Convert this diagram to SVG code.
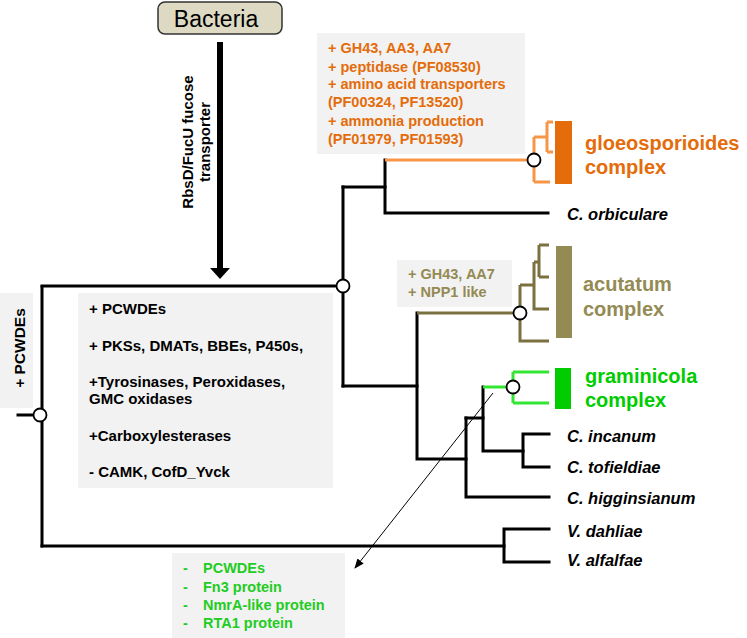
<svg xmlns="http://www.w3.org/2000/svg" width="747" height="638" viewBox="0 0 747 638">
<defs>
<style>
.t{stroke:#000;stroke-width:3;fill:none;stroke-linecap:square}
.o{stroke:#f79646;stroke-width:3;fill:none}
.v{stroke:#7a7040;stroke-width:3;fill:none}
.g{stroke:#33e633;stroke-width:3;fill:none}
.nd{fill:#fff;stroke:#000;stroke-width:1.8}
.box{fill:#f2f2f2}
.b{font-family:"Liberation Sans",Arial,sans-serif;font-weight:bold}
.sp{font-family:"Liberation Sans",Arial,sans-serif;font-weight:bold;font-style:italic;font-size:16.5px;fill:#000}
</style>
<marker id="ah" markerWidth="10" markerHeight="8" refX="9" refY="4" orient="auto" markerUnits="userSpaceOnUse">
<path d="M0,0 L10,4 L0,8 z" fill="#000"/>
</marker>
</defs>
<rect width="747" height="638" fill="#fff"/>

<g id="bacteria">
<rect x="158" y="2" width="124" height="32" rx="7" fill="#ddd9c3" stroke="#333" stroke-width="1.5"/>
<text x="216" y="27" font-family="Liberation Sans,Arial,sans-serif" font-size="23" text-anchor="middle" fill="#000">Bacteria</text>
</g>

<g id="transfer">
<line x1="220" y1="42" x2="220" y2="269" stroke="#000" stroke-width="6"/>
<polygon points="210,268 230,268 220,279" fill="#000"/>
<text class="b" font-size="15" fill="#000" transform="translate(193,142) rotate(-90)" text-anchor="middle">RbsD/FucU fucose</text>
<text class="b" font-size="15" fill="#000" transform="translate(210,142) rotate(-90)" text-anchor="middle">transporter</text>
</g>

<g id="connectors">
<path class="t" d="M18,415 H40"/>
<path class="t" d="M42,287 V546"/>
<path class="t" d="M42,286 H343"/>
<path class="t" d="M42,546 H504"/>
<path class="t" d="M504,529 V562 M504,529 H549 M504,562 H549"/>
<path class="t" d="M343,187 V386"/>
<path class="t" d="M343,187 H385"/>
<path class="t" d="M385,160 V213 H548"/>
<path class="o" d="M385,160 H534"/>
<path class="o" d="M534,137 V182 M534,137 H547 M534,182 H550 M547,122 V152 M547,122 H553 M547,152 H553"/>
<path class="t" d="M343,386 H417"/>
<path class="t" d="M417,313 V459 H466"/>
<path class="v" d="M417,313 H520"/>
<path class="v" d="M520,285 V341 H549 M520,285 H534 M534,262 V309 H549 M534,262 H539 M539,245 V277 M539,245 H549 M539,277 H549"/>
<path class="t" d="M466,418 V497 H549"/>
<path class="t" d="M466,418 H483"/>
<path class="t" d="M483,387 V451 H523"/>
<path class="t" d="M523,434 V467 M523,434 H549 M523,467 H549"/>
<path class="g" d="M483,387 H513"/>
<path class="g" d="M513,372 V403 M513,372 H549 M513,403 H549"/>
<line x1="493" y1="393" x2="355" y2="568" stroke="#000" stroke-width="1" marker-end="url(#ah)"/>
</g>

<g id="nodes">
<circle class="nd" cx="40" cy="415" r="6.5"/>
<circle class="nd" cx="343" cy="286" r="6.5"/>
<circle class="nd" cx="534" cy="160" r="6.5"/>
<circle class="nd" cx="520" cy="313" r="6.5"/>
<circle class="nd" cx="513" cy="387" r="6.5"/>
</g>

<g id="root-label">
<rect class="box" x="0" y="293" width="33" height="115"/>
<text class="b" font-size="15.5" fill="#000" transform="translate(25,348) rotate(-90)" text-anchor="middle">+ PCWDEs</text>
</g>

<g id="colleto-box">
<rect class="box" x="78" y="293" width="255" height="195"/>
<g class="b" font-size="15" fill="#000">
<text x="89" y="314">+ PCWDEs</text>
<text x="89" y="351">+ PKSs, DMATs, BBEs, P450s,</text>
<text x="89" y="387">+Tyrosinases, Peroxidases,</text>
<text x="89" y="404">GMC oxidases</text>
<text x="89" y="441">+Carboxylesterases</text>
<text x="89" y="477">- CAMK, CofD_Yvck</text>
</g>
</g>

<g id="gloeo-box">
<rect class="box" x="317" y="33" width="208" height="121"/>
<g class="b" font-size="14.5" fill="#e46c0a">
<text x="328" y="53">+ GH43, AA3, AA7</text>
<text x="328" y="72">+ peptidase (PF08530)</text>
<text x="328" y="89">+ amino acid transporters</text>
<text x="328" y="107">(PF00324, PF13520)</text>
<text x="328" y="126">+ ammonia production</text>
<text x="328" y="144">(PF01979, PF01593)</text>
</g>
</g>

<g id="gloeosporioides">
<rect x="555" y="121" width="17" height="63" fill="#e46c0a"/>
<text class="b" font-size="20" fill="#e46c0a" x="585" y="150">gloeosporioides</text>
<text class="b" font-size="20" fill="#e46c0a" x="585" y="174">complex</text>
</g>

<g id="orbiculare"><text class="sp" x="567" y="220">C. orbiculare</text></g>

<g id="acut-box">
<rect class="box" x="397" y="260" width="115" height="47"/>
<g class="b" font-size="14.5" fill="#948a54">
<text x="408" y="279">+ GH43, AA7</text>
<text x="408" y="297">+ NPP1 like</text>
</g>
</g>

<g id="acutatum">
<rect x="556" y="246" width="16" height="92" fill="#948a54"/>
<text class="b" font-size="20" fill="#948a54" x="583" y="291">acutatum</text>
<text class="b" font-size="20" fill="#948a54" x="583" y="316">complex</text>
</g>

<g id="graminicola">
<rect x="555" y="368" width="16" height="41" fill="#00cc00"/>
<text class="b" font-size="20" fill="#00cc00" x="585" y="383">graminicola</text>
<text class="b" font-size="20" fill="#00cc00" x="585" y="407">complex</text>
</g>

<g id="incanum"><text class="sp" x="567" y="442">C. incanum</text></g>
<g id="tofieldiae"><text class="sp" x="567" y="473">C. tofieldiae</text></g>
<g id="higginsianum"><text class="sp" x="567" y="504">C. higginsianum</text></g>
<g id="dahliae"><text class="sp" x="567" y="537">V. dahliae</text></g>
<g id="alfalfae"><text class="sp" x="567" y="566">V. alfalfae</text></g>

<g id="gram-box">
<rect class="box" x="172" y="553" width="173" height="85"/>
<g class="b" font-size="14.5" fill="#22cc22">
<text x="183" y="573">-</text><text x="203" y="573">PCWDEs</text>
<text x="183" y="592">-</text><text x="203" y="592">Fn3 protein</text>
<text x="183" y="610">-</text><text x="203" y="610">NmrA-like protein</text>
<text x="183" y="628">-</text><text x="203" y="628">RTA1 protein</text>
</g>
</g>
</svg>
